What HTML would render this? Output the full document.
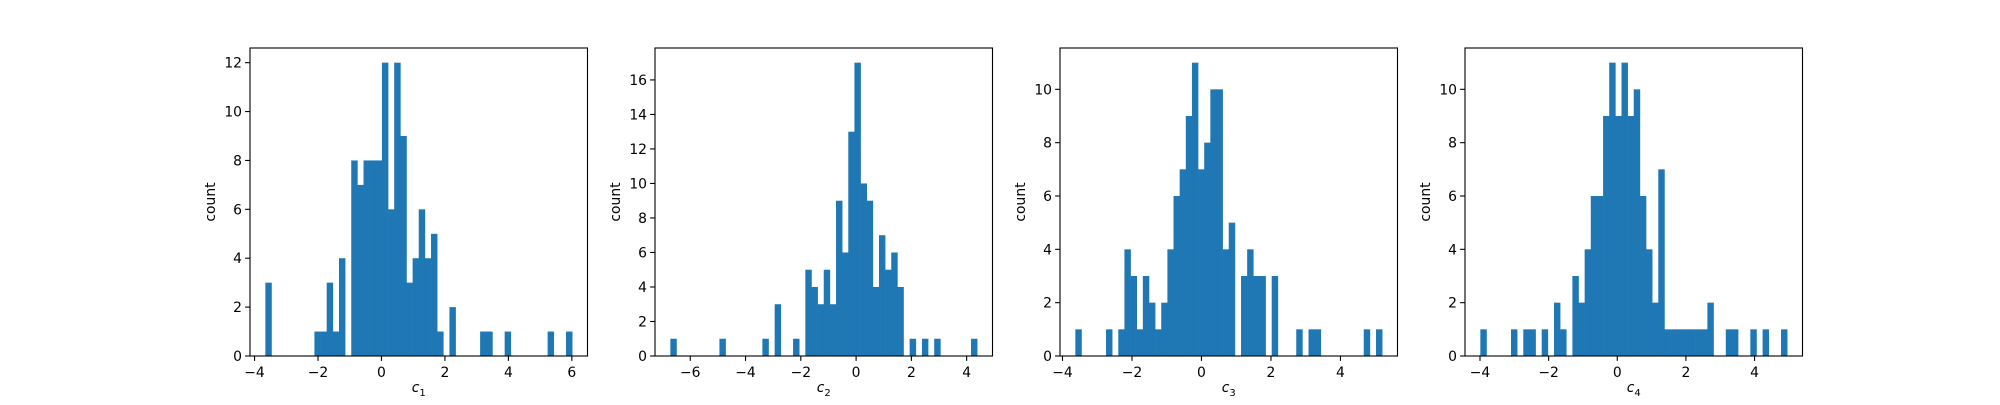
<!DOCTYPE html>
<html><head><meta charset="utf-8"><style>
html,body{margin:0;padding:0;background:#fff;}
svg text{font-family:"DejaVu Sans","Liberation Sans",sans-serif;font-size:13.9px;fill:#000;}
</style></head><body>
<svg id="fig" width="2000" height="400" viewBox="0 0 2000 400" xmlns="http://www.w3.org/2000/svg"></svg>
<script>
const panelNames = ["c1","c2","c3","c4"];
const binMin = [-3.66, -6.72, -3.63, -3.99];
const binMax = [6.01, 4.38, 5.20, 4.95];
const counts1 = [3,0,0,0,0,0,0,0,1,1,3,1,4,0,8,7,8,8,8,12,6,12,9,3,4,6,4,5,1,0,2,0,0,0,0,1,1,0,0,1,0,0,0,0,0,0,1,0,0,1];
const counts2 = [1,0,0,0,0,0,0,0,1,0,0,0,0,0,0,1,0,3,0,0,1,0,5,4,3,5,3,9,6,13,17,10,9,4,7,5,6,4,0,1,0,1,0,1,0,0,0,0,0,1];
const counts3 = [1,0,0,0,0,1,0,1,4,3,1,3,2,1,2,4,6,7,9,11,7,8,10,10,4,5,0,3,4,3,3,0,3,0,0,0,1,0,1,1,0,0,0,0,0,0,0,1,0,1];
const counts4 = [1,0,0,0,0,1,0,1,1,0,1,0,2,1,0,3,2,4,6,6,9,11,9,11,9,10,6,4,2,7,1,1,1,1,1,1,1,2,0,0,1,1,0,0,1,0,1,0,0,1];
const xTicks1 = [-4,-2,0,2,4,6];
const xTicks2 = [-6,-4,-2,0,2,4];
const xTicks3 = [-4,-2,0,2,4];
const xTicks4 = [-4,-2,0,2,4];
const yTicks1 = [0,2,4,6,8,10,12];
const yTicks2 = [0,2,4,6,8,10,12,14,16];
const yTicks3 = [0,2,4,6,8,10];
const yTicks4 = [0,2,4,6,8,10];
const allCounts = [counts1,counts2,counts3,counts4];
const allX = [xTicks1,xTicks2,xTicks3,xTicks4];
const allY = [yTicks1,yTicks2,yTicks3,yTicks4];

const NS = "http://www.w3.org/2000/svg";
const svg = document.getElementById("fig");
function mk(tag, attrs, parent){const e=document.createElementNS(NS,tag);for(const k in attrs)e.setAttribute(k,attrs[k]);parent.appendChild(e);return e;}
const lefts = [250,655,1060,1465];
const W = 337.5, TOP = 48, H = 308, BOT = TOP+H;
const fmt = v => (v<0 ? "\u2212"+(-v) : ""+v);

for (let p=0;p<4;p++){
  const c = allCounts[p];
  const lo = binMin[p], hi = binMax[p], n = c.length;
  const span = hi-lo;
  const x0 = lo-0.05*span, x1 = hi+0.05*span;
  const ymax = Math.max(...c)*1.05;
  const L = lefts[p];
  const sx = v => L + (v-x0)/(x1-x0)*W;
  const sy = v => BOT - v/ymax*H;
  const g = mk("g",{},svg);
  
  
  const bw = span/n;
  for (let i=0;i<n;i++){
    if (!c[i]) continue;
    const a = sx(lo+i*bw), b = sx(lo+(i+1)*bw);
    const r = mk("rect",{x:a,y:sy(c[i]),width:b-a+0.3,height:BOT-sy(c[i]),fill:"#1f77b4"},g);
    
    
  }
  const fr = mk("rect",{x:L,y:TOP,width:W,height:H,fill:"none",stroke:"#000","stroke-width":1.1},g);
  
  
  allX[p].forEach(t=>{
    const x = sx(t);
    mk("line",{x1:x,y1:BOT,x2:x,y2:BOT+4.9,stroke:"#000","stroke-width":1.1},g);
    const tx = mk("text",{x:x,y:BOT+21,"text-anchor":"middle"},g);
    tx.textContent = fmt(t);
    
    
  });
  allY[p].forEach(t=>{
    const y = sy(t);
    mk("line",{x1:L-4.9,y1:y,x2:L,y2:y,stroke:"#000","stroke-width":1.1},g);
    const ty = mk("text",{x:L-8,y:y+5,"text-anchor":"end"},g);
    ty.textContent = fmt(t);
    
    
  });
  const yl = mk("text",{x:0,y:0,"text-anchor":"middle",transform:"translate("+(L-35)+","+(TOP+H/2)+") rotate(-90)"},g);
  yl.textContent = "count";
  
  
  const xl = mk("text",{x:L+W/2,y:BOT+36,"text-anchor":"middle","font-style":"italic"},g);
  xl.textContent = "c";
  const sub = mk("tspan",{dy:4,"font-size":"10px","font-style":"normal"},xl);
  sub.textContent = String(p+1);
  
  
}
</script>
</body></html>
